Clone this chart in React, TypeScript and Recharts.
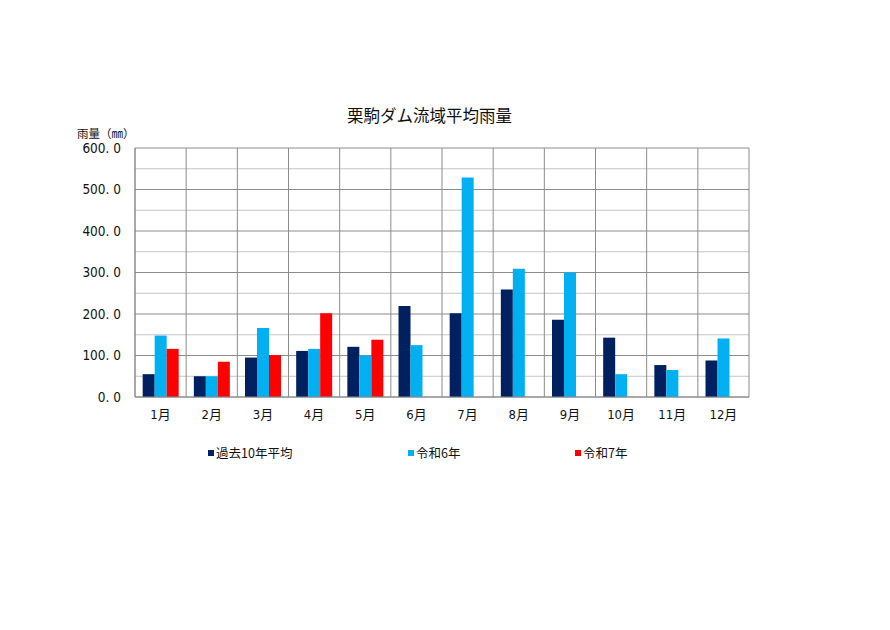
import { BarChart, Bar, XAxis, YAxis, CartesianGrid } from "recharts";

const months = ["1月", "2月", "3月", "4月", "5月", "6月", "7月", "8月", "9月", "10月", "11月", "12月"];
const avg10 = [55, 50, 95, 111, 121, 219, 202, 259, 186, 143, 77, 88];
const reiwa6 = [148, 50, 166, 116, 100, 125, 529, 309, 300, 55, 65, 141];
const reiwa7: (number | null)[] = [116, 85, 101, 202, 138, null, null, null, null, null, null, null];

const yTicks = [0, 100, 200, 300, 400, 500, 600];
const minorTicks = [50, 150, 250, 350, 450, 550];

const series = [
  { key: "avg10", label: "過去10年平均", color: "#002060", legendX: 208 },
  { key: "reiwa6", label: "令和6年", color: "#00B0F0", legendX: 408 },
  { key: "reiwa7", label: "令和7年", color: "#FF0000", legendX: 575 },
];

const data = months.map((m, i) => ({
  month: m,
  avg10: avg10[i],
  reiwa6: reiwa6[i],
  reiwa7: reiwa7[i],
}));

const NUM_FONT = "'Liberation Sans Narrow', 'DejaVu Sans Condensed', 'Noto Sans CJK JP', sans-serif";
const JP_FONT = "'Noto Sans CJK JP', sans-serif";

export default function App() {
  return (
    <div style={{ position: "absolute", left: 0, top: 0, width: 890, height: 630, background: "#fff" }}>
      <div
        style={{
          position: "absolute",
          left: 347,
          top: 103,
          fontFamily: JP_FONT,
          fontSize: 16.5,
          color: "#111",
          whiteSpace: "nowrap",
        }}
      >
        栗駒ダム流域平均雨量
      </div>
      <div
        style={{
          position: "absolute",
          left: 77,
          top: 125,
          fontFamily: JP_FONT,
          fontSize: 11.5,
          color: "#111",
        }}
      >
        雨量（㎜）
      </div>

      <BarChart
        width={890}
        height={630}
        data={data}
        margin={{ top: 148, right: 141, bottom: 203, left: 75 }}
        barCategoryGap="15%"
        barGap={0}
        style={{ position: "absolute", left: 0, top: 0 }}
      >
        <CartesianGrid
          horizontal
          vertical={false}
          horizontalValues={minorTicks}
          stroke="#c4c4c4"
          strokeWidth={1}
        />
        <CartesianGrid
          horizontal
          vertical
          horizontalValues={yTicks}
          verticalCoordinatesGenerator={({ offset }: any) =>
            months.map((_, i) => offset.left + (i * offset.width) / months.length).concat(offset.left + offset.width)
          }
          stroke="#8c8c8c"
          strokeWidth={1}
        />
        <XAxis
          dataKey="month"
          height={30}
          axisLine={{ stroke: "#8c8c8c" }}
          tickLine={false}
          tick={{ fontSize: 13, fill: "#111", fontFamily: NUM_FONT }}
          tickMargin={7}
          interval={0}
        />
        <YAxis
          width={60}
          domain={[0, 600]}
          ticks={yTicks}
          axisLine={{ stroke: "#8c8c8c" }}
          tickLine={false}
          tickMargin={8}
          tick={{ fontSize: 13.5, fill: "#111", fontFamily: NUM_FONT }}
          tickFormatter={(v: number) => v.toFixed(1).replace(".", ". ")}
        />
        {series.map((s) => (
          <Bar key={s.key} dataKey={s.key} fill={s.color} isAnimationActive={false} />
        ))}
      </BarChart>

      {series.map((s) => (
        <div
          key={s.key}
          style={{
            position: "absolute",
            left: s.legendX,
            top: 443,
            display: "flex",
            alignItems: "center",
            fontFamily: JP_FONT,
            fontSize: 12.5,
            color: "#111",
          }}
        >
          <span style={{ width: 6, height: 6, background: s.color, marginRight: 2, display: "inline-block" }} />
          {s.label}
        </div>
      ))}
    </div>
  );
}
